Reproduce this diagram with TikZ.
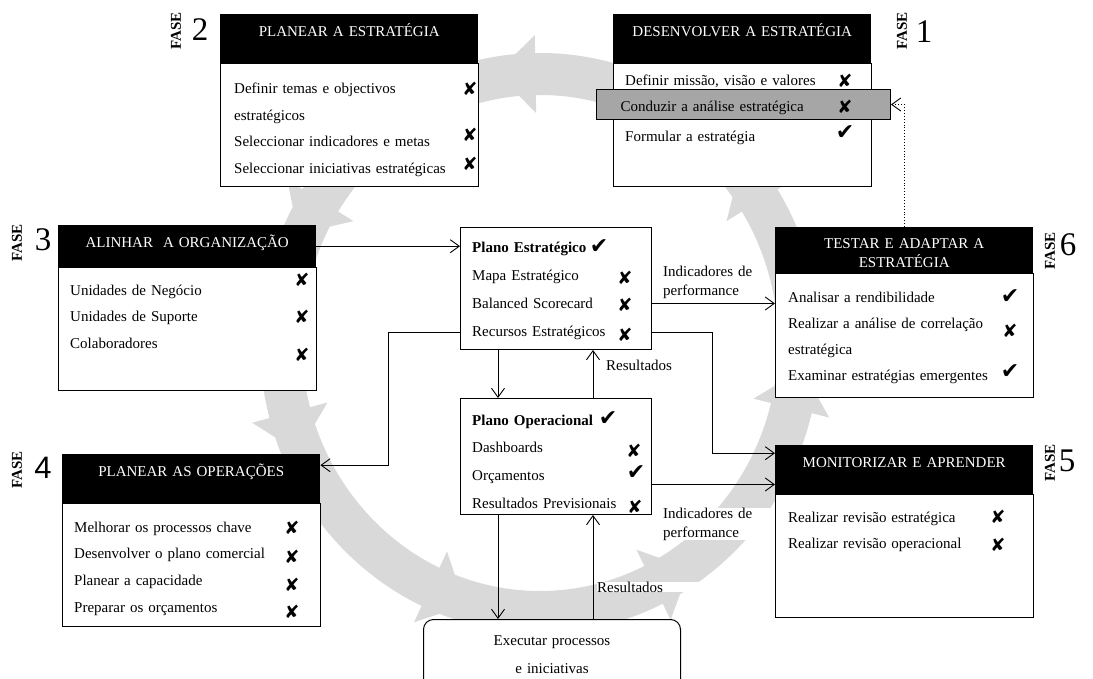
\documentclass[tikz,border=0pt]{standalone}
\usepackage{fontspec}
\setmainfont{Liberation Serif}
\newfontfamily\marksfont{DejaVu Sans}
\newfontfamily\sansdigit{Liberation Sans}
\usetikzlibrary{arrows.meta}

\tikzset{
  head/.style={fill=black, text=white, inner sep=0pt, anchor=north west,
    text width=258pt, align=center, text height=22.5pt, text depth=26.5pt,
    font=\fontsize{15}{19}\selectfont},
  body/.style={draw, fill=white, line width=1pt, inner sep=0pt, anchor=north west,
    minimum width=258pt, minimum height=123pt},
  plan/.style={draw, fill=white, line width=1pt, inner sep=0pt, anchor=north west,
    minimum width=191pt},
  items/.style={anchor=base west, inner sep=0pt, text width=240pt, align=left,
    font=\fontsize{15}{26.5}\selectfont},
  lab/.style={anchor=base west, inner sep=0pt, text width=110pt, align=left,
    font=\fontsize{15}{19}\selectfont},
  xmark/.style={inner sep=0pt, font=\marksfont\fontsize{18}{18}\selectfont},
  vmark/.style={inner sep=0pt, font=\marksfont\fontsize{22}{22}\selectfont},
  fase/.style={rotate=90, inner sep=0pt, font=\bfseries\fontsize{15}{15}\selectfont},
  num/.style={inner sep=0pt, font=\fontsize{33}{33}\selectfont},
  conn/.style={line width=0.9pt, -{Straight Barb[length=9pt,width=13pt]}},
  ring/.style={draw=black!15, line width=42pt},
}

\begin{document}
\begin{tikzpicture}[x=1pt, y=-1pt]
\fill[white] (0,0) rectangle (1093,679);
\useasboundingbox (0,0) rectangle (1093,679);

% grey ring behind the phases
\draw[ring] (540,343) ellipse [x radius=259, y radius=269];
\foreach \ang in {32,91,148,195,245,296,346}
  \fill[black!15] ({540+220*cos(\ang)},{343-230*sin(\ang)}) -- ({540+298*cos(\ang)},{343-308*sin(\ang)})
    -- ({540+280*cos(\ang+4)},{343-290*sin(\ang+4)}) -- ({540+238*cos(\ang+4)},{343-248*sin(\ang+4)}) -- cycle;

% fase 1
\node[head] (h1) at (613,14) {DESENVOLVER A ESTRATÉGIA};
\node[body] (b1) at (h1.south west) {};
\node[items] (t1) at (625,86) {Definir missão, visão e valores};
\node[draw, fill=black!35, line width=1pt, anchor=north west, inner ysep=0pt, inner xsep=24pt,
  text width=246pt, align=left, text height=22pt, text depth=8pt,
  font=\fontsize{15}{19}\selectfont] (ca) at (596,89) {Conduzir a análise estratégica};
\node[items] (t1b) at (625,142) {Formular a estratégia};
\node[xmark] (x1a) at (845,81) {✘};
\node[xmark] (x1b) at (845,107) {✘};
\node[vmark] (v1) at (845,133) {✔};
\node[fase] (f1) at (902,31) {FASE};
\node[num] (n1) at (924,32) {1};

% fase 2
\node[head] (h2) at (220,14) {PLANEAR A ESTRATÉGIA};
\node[body] (b2) at (h2.south west) {};
\node[items] (t2) at (234,94) {Definir temas e objectivos\\estratégicos\\Seleccionar indicadores e metas\\Seleccionar iniciativas estratégicas};
\node[xmark] (x2a) at (470,89) {✘};
\node[xmark] (x2b) at (470,135) {✘};
\node[xmark] (x2c) at (470,164) {✘};
\node[fase] (f2) at (176,31) {FASE};
\node[num] (n2) at (200,30) {2};

% fase 3
\node[head, text depth=19.5pt] (h3) at (58,225) {ALINHAR\ \ A ORGANIZAÇÃO};
\node[body] (b3) at (h3.south west) {};
\node[items] (t3) at (70,295) {Unidades de Negócio\\Unidades de Suporte\\Colaboradores};
\node[xmark] (x3a) at (302,280) {✘};
\node[xmark] (x3b) at (302,317) {✘};
\node[xmark] (x3c) at (302,355) {✘};
\node[fase] (f3) at (17,243) {FASE};
\node[num] (n3) at (43,240) {3};

% fase 4
\node[head] (h4) at (62,454) {PLANEAR AS OPERAÇÕES};
\node[body] (b4) at (h4.south west) {};
\node[items, font=\fontsize{15}{26.7}\selectfont] (t4) at (74,532) {Melhorar os processos chave\\Desenvolver o plano comercial\\Planear a capacidade\\Preparar os orçamentos};
\node[xmark] (x4a) at (292,528) {✘};
\node[xmark] (x4b) at (292,557) {✘};
\node[xmark] (x4c) at (292,585) {✘};
\node[xmark] (x4d) at (292,612) {✘};
\node[fase] (f4) at (17,470) {FASE};
\node[num, font=\sansdigit\fontsize{31}{31}\selectfont] (n4) at (43,468) {4};

% fase 5
\node[head] (h5) at (775,445) {MONITORIZAR E APRENDER};
\node[body] (b5) at (h5.south west) {};
\node[items, font=\fontsize{15}{26}\selectfont] (t5) at (788,522) {Realizar revisão estratégica\\Realizar revisão operacional};
\node[xmark] (x5a) at (998,517) {✘};
\node[xmark] (x5b) at (998,545) {✘};
\node[fase] (f5) at (1050,463) {FASE};
\node[num] (n5) at (1067,461) {5};

% fase 6
\node[head, text height=21pt, text depth=25pt] (h6) at (775,227) {TESTAR E ADAPTAR A\\ESTRATÉGIA};
\node[body, minimum height=124pt] (b6) at (h6.south west) {};
\node[items, font=\fontsize{15}{26.3}\selectfont] (t6) at (788,302) {Analisar a rendibilidade\\Realizar a análise de correlação\\estratégica\\Examinar estratégias emergentes};
\node[vmark] (v6a) at (1010,297) {✔};
\node[xmark] (x6) at (1010,331) {✘};
\node[vmark] (v6b) at (1010,372) {✔};
\node[fase] (f6) at (1050,251) {FASE};
\node[num] (n6) at (1068,245) {6};

% planos
\node[plan, minimum height=122pt] (pe) at (460,227) {};
\node[items, font=\fontsize{15}{28}\selectfont] (tpe) at (472,253) {\textbf{Plano Estratégico}\\Mapa Estratégico\\Balanced Scorecard\\Recursos Estratégicos};
\node[vmark] (vpe) at (599,247) {✔};
\node[xmark] (xpe1) at (625,278) {✘};
\node[xmark] (xpe2) at (625,305) {✘};
\node[xmark] (xpe3) at (625,335) {✘};

\node[plan, minimum height=116pt] (po) at (460,398) {};
\node[items, font=\fontsize{15}{27.7}\selectfont] (tpo) at (472,425) {\textbf{Plano Operacional}\\Dashboards\\Orçamentos\\Resultados Previsionais};
\node[vmark] (vpo) at (608,419) {✔};
\node[xmark] (xpo1) at (634,451) {✘};
\node[vmark] (vpo2) at (636,473) {✔};
\node[xmark] (xpo3) at (635,507) {✘};

\node[draw, fill=white, line width=1pt, rounded corners=10pt, anchor=north west, inner sep=0pt,
  text width=257pt, align=center, text height=26pt, text depth=64pt,
  font=\fontsize{15}{28}\selectfont] (ex) at (423,619) {Executar processos\\e iniciativas};

% ligacoes
\draw[conn] (h3.east) -- (h3.east -| pe.west);
\draw[conn] ([yshift=-15pt]pe.east) -- ([yshift=-15pt]pe.east -| b6.west);
\draw[conn] ([yshift=-44pt]pe.east) -- ++(60,0) |- ([yshift=16.5pt]h5.west);
\draw[conn] ([yshift=-28pt]po.east) -- ([yshift=-28pt]po.east -| h5.west);
\draw[conn] ([yshift=-44pt]pe.west) -- ++(-72,0) |- ([yshift=13.5pt]h4.east);
\draw[conn] ([xshift=38pt]pe.south west) -- ([xshift=38pt]po.north west);
\draw[conn] ([xshift=133pt]po.north west) -- ([xshift=133pt]pe.south west);
\draw[conn] ([xshift=38pt]po.south west) -- ([xshift=38pt]po.south west |- ex.north);
\draw[conn] ([xshift=133pt]po.south west |- ex.north) -- ([xshift=133pt]po.south west);
\draw[conn, dotted] (h6.north) |- (ca.east);

\node[lab] (ip1) at (663,277) {Indicadores de\\performance};
\node[lab, fill=white] (ip2) at (663,518) {Indicadores de\\performance};
\node[lab] (r1) at (606,370) {Resultados};
\node[lab, fill=white] (r2) at (597,592) {Resultados};
\end{tikzpicture}
\end{document}
